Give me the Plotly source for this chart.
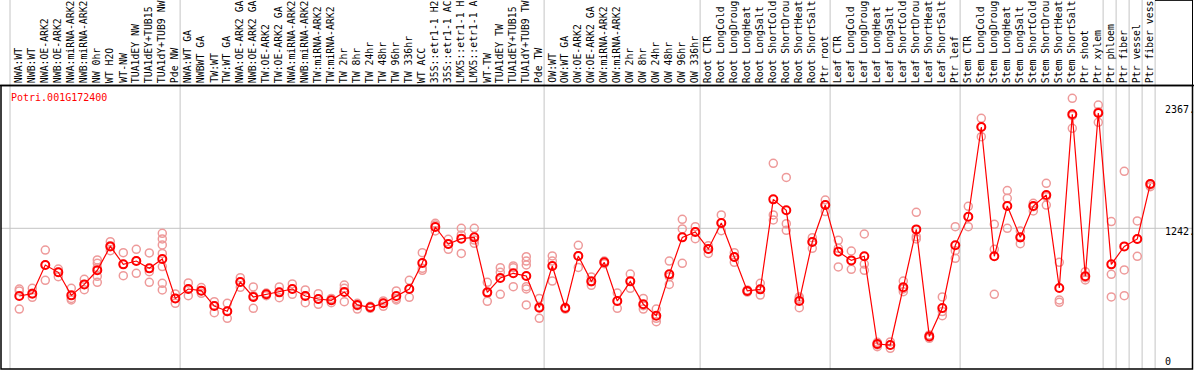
import plotly.graph_objects as go

gene = "Potri.001G172400"

# category labels as they appear (the reference clips long names at the top edge)
categories = [
    "NWA:WT", "NWB:WT", "NWA:OE-ARK2", "NWB:OE-ARK2", "NWA:miRNA-ARK2", "NWB:miRNA-ARK2",
    "NW 0hr", "WT H2O", "WT-NW", "TUA1dEY NW", "TUA1dEY+TUB15", "TUA1dY+TUB9 NW", "Pde NW",
    "NWA:WT GA", "NWBWT GA", "TW:WT", "TW:WT GA", "NWA:OE-ARK2 GA", "NWB:OE-ARK2 GA",
    "TW:OE-ARK2", "TW:OE-ARK2 GA", "NWA:miRNA-ARK2", "NWB:miRNA-ARK2", "TW:miRNA-ARK2",
    "TW:miRNA-ARK2", "TW 2hr", "TW 8hr", "TW 24hr", "TW 48hr", "TW 96hr", "TW 336hr",
    "WT ACC", "35S::etr1-1 H2", "35S::etr1-1 AC", "LMX5::etr1-1 H", "LMX5::etr1-1 A",
    "WT-TW", "TUA1dEY TW", "TUA1dEY+TUB15", "TUA1dY+TUB9 TW", "Pde TW",
    "OW:WT", "OW:WT GA", "OW:OE-ARK2", "OW:OE-ARK2 GA", "OW:miRNA-ARK2", "OW:miRNA-ARK2",
    "OW 2hr", "OW 8hr", "OW 24hr", "OW 48hr", "OW 96hr", "OW 336hr",
    "Root CTR", "Root LongCold", "Root LongDroug", "Root LongHeat", "Root LongSalt",
    "Root ShortCold", "Root ShortDrou", "Root ShortHeat", "Root ShortSalt", "Ptr root",
    "Leaf CTR", "Leaf LongCold", "Leaf LongDroug", "Leaf LongHeat", "Leaf LongSalt",
    "Leaf ShortCold", "Leaf ShortDrou", "Leaf ShortHeat", "Leaf ShortSalt", "Ptr leaf",
    "Stem CTR", "Stem LongCold", "Stem LongDroug", "Stem LongHeat", "Stem LongSalt",
    "Stem ShortCold", "Stem ShortDrou", "Stem ShortHeat", "Stem ShortSalt",
    "Ptr shoot", "Ptr xylem", "Ptr phloem", "Ptr fiber", "Ptr vessel", "Ptr fiber vess",
]

mean_values = [
    613, 635, 901, 833, 619, 721, 852, 1074, 907, 938, 870, 957, 591,
    678, 663, 520, 471, 743, 604, 629, 647, 678, 613, 585, 573,
    650, 530, 508, 545, 613, 678, 920, 1254, 1096, 1146, 1158,
    647, 780, 824, 799, 505,
    892, 502, 985, 749, 926, 567, 749, 536, 430, 814, 1158, 1208,
    1050, 1291, 975, 660, 675, 1511, 1409, 567, 1115, 1458,
    1025, 944, 982, 167, 158, 694, 1232, 238, 502, 1084,
    1350, 2183, 982, 1449, 1158, 1449, 1551, 687, 2301,
    796, 2313, 907, 1074, 1143, 1654,
]

replicate_values = [
    [678, 660, 492], [684, 638, 601], [1040, 901, 759], [864, 833, 793], [684, 591, 576],
    [768, 721, 672], [948, 917, 876, 796, 740], [1118, 1081, 1034], [1016, 907, 802],
    [1047, 941, 824], [1013, 839, 740], [1195, 1143, 1087, 1009, 886, 731, 669], [632, 591, 545],
    [734, 678, 616], [691, 663, 638], [560, 523, 458], [545, 468, 406], [783, 743, 694],
    [697, 616, 499], [641, 629, 616], [697, 647, 598], [725, 678, 629], [669, 616, 551],
    [635, 585, 536], [591, 573, 551], [715, 684, 560], [545, 523, 492], [517, 508, 499],
    [567, 545, 517], [660, 591, 576], [759, 678, 601], [1016, 870, 852], [1288, 1273, 1217],
    [1140, 1096, 1047], [1242, 1180, 1009], [1242, 1133, 1102], [740, 638, 564],
    [876, 833, 629], [892, 876, 700], [978, 938, 901, 700, 678, 530], [591, 514, 406],
    [985, 938, 752], [508, 499, 492], [1084, 988, 879], [790, 746, 712], [938, 926, 913],
    [641, 567, 499], [817, 749, 684], [591, 523, 492], [492, 406, 375], [938, 793, 721],
    [1325, 1236, 917], [1257, 1211, 1146], [1081, 1050, 1009], [1366, 1291, 1220],
    [1016, 975, 926], [669, 660, 650], [731, 675, 622], [1846, 1366, 1319], [1715, 1285, 1223],
    [604, 591, 505], [1155, 1118, 1056], [1505, 1458, 1397], [1130, 1056, 883],
    [1031, 944, 861], [1189, 910, 852], [183, 158, 142], [186, 158, 127], [752, 678, 653],
    [1390, 1164, 1143], [251, 235, 220], [604, 468, 430], [1257, 1034, 963],
    [1446, 1350, 1257], [2264, 2183, 2093], [1279, 1047, 629], [1592, 1520, 1242],
    [1217, 1155, 1099], [1474, 1443, 1403], [1660, 1536, 1458], [926, 576, 554],
    [2449, 2288, 2171], [839, 783, 762], [2387, 2325, 2226], [1304, 814, 604],
    [1771, 855, 616], [1310, 1143, 982], [1654, 1644, 1629],
]

axis_ticks = [2367, 1242, 0]
axis_tick_text = ["2367.", "1242.", "0"]
group_last_index = [12, 40, 52, 62, 72, 83, 84, 85, 86, 87]

W, H = 1194, 370
MONO = "DejaVu Sans Mono"
x_idx = list(range(len(categories)))

rep_x, rep_y = [], []
for i, reps in enumerate(replicate_values):
    for v in reps:
        rep_x.append(i)
        rep_y.append(v)

fig = go.Figure()
fig.add_trace(go.Scatter(
    x=rep_x, y=rep_y, mode="markers",
    marker=dict(symbol="circle-open", size=8, color="#ee9a9a", line=dict(width=1.5, color="#ee9a9a")),
    hoverinfo="y", showlegend=False,
))
fig.add_trace(go.Scatter(
    x=x_idx, y=mean_values, mode="lines+markers",
    line=dict(color="#ff0000", width=1.2),
    marker=dict(symbol="circle-open", size=8, color="#ff0000", line=dict(width=2, color="#ff0000")),
    text=categories, hoverinfo="text+y", showlegend=False,
))

shapes = []
# vertical separators (full height)
for b in [-0.715] + [g + 0.37 for g in group_last_index]:
    shapes.append(dict(type="line", xref="x", yref="paper", x0=b, x1=b, y0=1 - 369 / H, y1=1,
                       line=dict(color="#c4c4c4", width=1), layer="below"))
# horizontal gridline
shapes.append(dict(type="line", xref="paper", yref="y", x0=1 / W, x1=1192 / W, y0=axis_ticks[1], y1=axis_ticks[1],
                   line=dict(color="#c4c4c4", width=1), layer="below"))
# frame
shapes.append(dict(type="rect", xref="paper", yref="paper", x0=1 / W, x1=1192.5 / W,
                   y0=1 - 369 / H, y1=1 - 85.5 / H, line=dict(color="black", width=1.5)))
shapes.append(dict(type="line", xref="paper", yref="paper", x0=0, x1=1, y0=1 - 85.5 / H, y1=1 - 85.5 / H,
                   line=dict(color="black", width=1.5)))
shapes.append(dict(type="line", xref="paper", yref="paper", x0=1192.5 / W, x1=1192.5 / W, y0=1 - 85.5 / H, y1=1,
                   line=dict(color="black", width=1)))
shapes.append(dict(type="line", xref="paper", yref="paper", x0=1155 / W, x1=1192.5 / W, y0=0.999, y1=0.999,
                   line=dict(color="black", width=1)))

annotations = []
for i, name in enumerate(categories):
    annotations.append(dict(
        x=i - 0.05, xref="x", y=1 - 84 / H, yref="paper", text=name, textangle=-90,
        xanchor="center", yanchor="bottom", showarrow=False, borderpad=0,
        font=dict(family=MONO, size=9.8, color="black"),
    ))
annotations.append(dict(
    x=9.5 / W, xref="paper", y=1 - 97 / H, yref="paper", text=gene, showarrow=False,
    xanchor="left", yanchor="middle", borderpad=0, font=dict(family=MONO, size=10, color="#ff0000"),
))
label_px = [109, 231.7, 361.7]
for t, ypx in zip(axis_tick_text, label_px):
    annotations.append(dict(
        x=1163.5 / W, xref="paper", y=1 - ypx / H, yref="paper", text=t, showarrow=False,
        xanchor="left", yanchor="middle", borderpad=0, font=dict(family=MONO, size=10, color="black"),
    ))

fig.update_layout(
    width=W, height=H, margin=dict(l=0, r=0, t=0, b=0),
    paper_bgcolor="white", plot_bgcolor="white",
    xaxis=dict(range=[-19.3 / 13, (W - 19.3) / 13], visible=False, fixedrange=True),
    yaxis=dict(range=[-(H - 362) / 0.10765, 362 / 0.10765], visible=False, fixedrange=True),
    shapes=shapes, annotations=annotations, showlegend=False,
)

fig.write_html(
    "out.html",
    config={"displayModeBar": False},
    post_script="document.body.style.margin='0';document.body.style.overflow='hidden';",
)
